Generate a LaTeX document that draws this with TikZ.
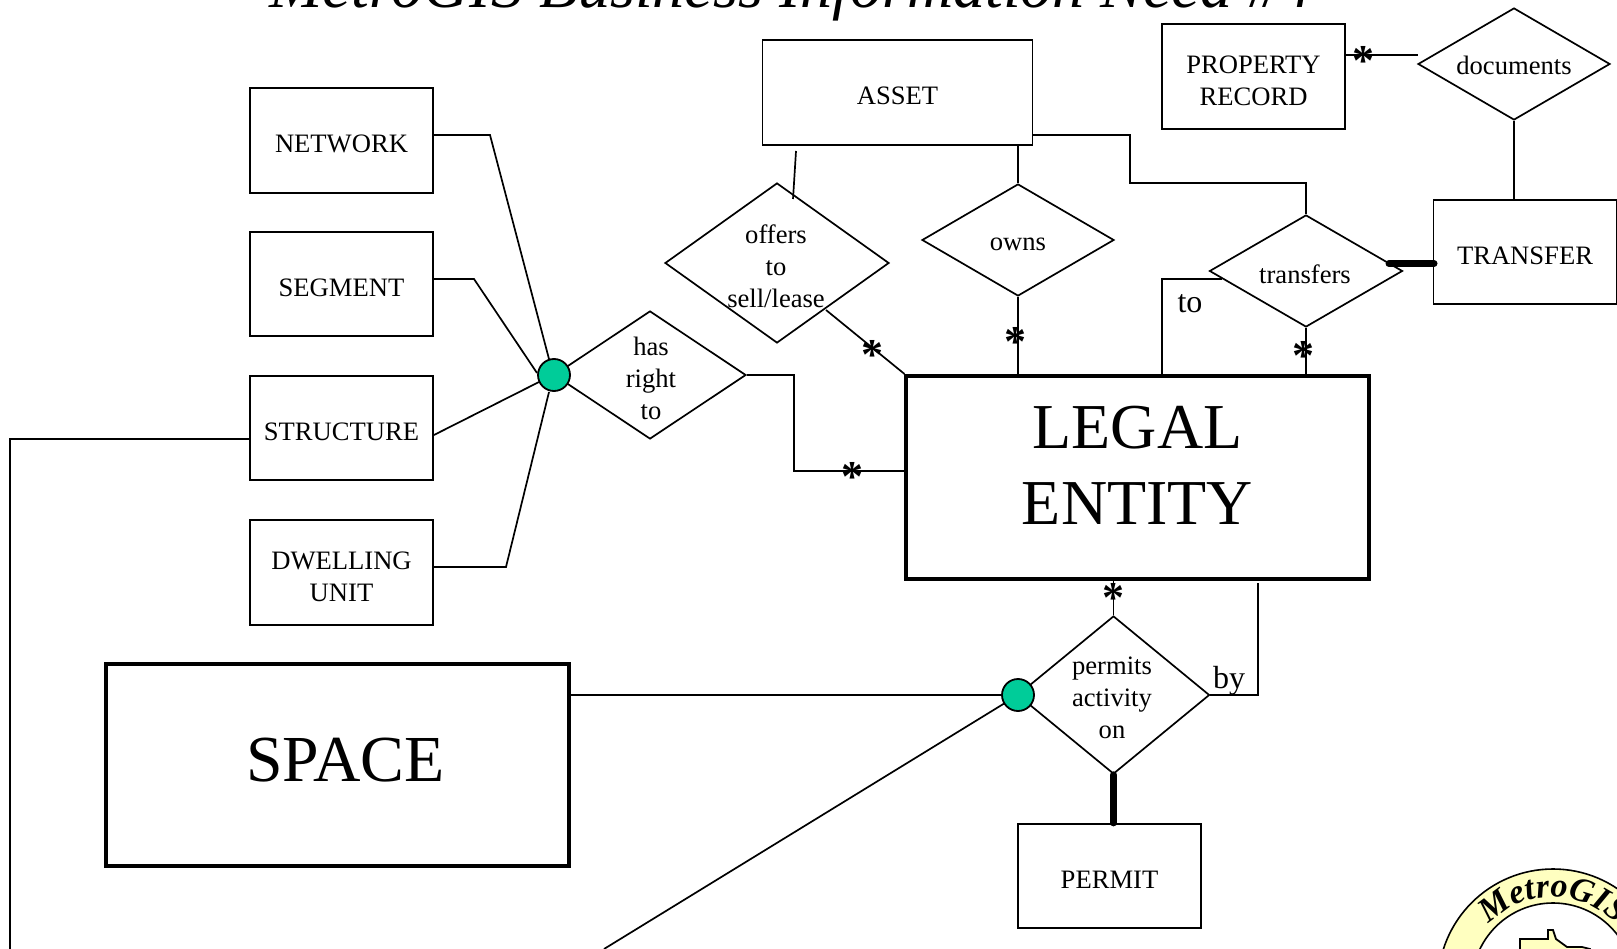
\documentclass[tikz,border=0pt]{standalone}
\usepackage{fontspec}
\setmainfont{Liberation Serif}
\usetikzlibrary{shapes.geometric,decorations.text,calc}
\definecolor{junccol}{HTML}{00CC99}
\definecolor{logoy}{HTML}{FFFFC0}
\tikzset{
  x=1pt,y=-1pt,
  ent/.style={draw=black,line width=1.7pt,fill=white,minimum width=183.2pt,minimum height=104.5pt,inner sep=0pt,align=center,font=\fontsize{26.6}{32}\selectfont},
  bigent/.style={draw=black,line width=3.6pt,fill=white,inner sep=0pt,align=center},
  rel/.style={draw=black,line width=1.7pt,diamond,fill=white,inner sep=0pt,aspect=1.7,align=center,font=\fontsize{26.6}{32}\selectfont},
  reltext/.style={inner sep=0pt,align=center,font=\fontsize{26.6}{32}\selectfont},
  junc/.style={circle,draw=black,line width=1.8pt,fill=junccol,minimum size=32pt,inner sep=0pt},
  conn/.style={draw=black,line width=1.7pt,line join=miter},
  heavy conn/.style={draw=black,line width=7pt,line cap=round},
  manymark/.style={inner sep=0pt,font=\fontsize{44}{44}\selectfont\bfseries},
  lab/.style={inner sep=0pt,font=\fontsize{32}{32}\selectfont},
}
\newcommand{\mk}[2]{\node[manymark] (#1) at (#2) {\makebox[0pt]{\raisebox{-0.46em}[0pt][0pt]{*}}};}
\newcommand{\one}{\rule{0pt}{25pt}}
\newcommand{\two}{\rule{0pt}{25.6pt}}
\begin{document}
\begin{tikzpicture}
\useasboundingbox (0,0) rectangle (1617,949);
\clip (0,0) rectangle (1617,949);
\node[anchor=base,inner sep=0pt,font=\fontsize{64}{70}\selectfont\itshape] (title) at (791,8) {MetroGIS Business Information Need \#4};
% free ends
\coordinate (c1) at (796,151);
\coordinate (c2) at (793,199);
\coordinate (c3) at (10,949);
\coordinate (c4) at (604,949);
% entities
\node[ent] (network) at (341.5,140.5) {\one NETWORK};
\node[ent] (segment) at (341.5,284) {\one SEGMENT};
\node[ent] (structure) at (341.5,428) {\one STRUCTURE};
\node[ent] (dwelling) at (341.5,572.5) {\two DWELLING\\UNIT};
\node[ent,minimum width=270pt] (asset) at (897.5,92.5) {\one ASSET};
\node[ent] (record) at (1253.5,76.5) {\two PROPERTY\\RECORD};
\node[ent] (transfer) at (1525,252) {\one TRANSFER};
\node[ent] (permit) at (1109.5,876) {\one PERMIT};
\node[bigent,minimum width=462.5pt,minimum height=203.5pt,font=\fontsize{64}{76}\selectfont,execute at end node={\rule[-25pt]{0pt}{25pt}}] (legal) at (1137.5,477.5) {LEGAL\\ENTITY};
\node[bigent,minimum width=463.5pt,minimum height=202.5pt,font=\fontsize{65.7}{76}\selectfont] (space) at (337.5,765) {\hspace*{16pt}SPACE\rule[-10pt]{0pt}{10pt}};
% relationships
\node[rel,minimum width=224pt,minimum height=160pt] (offers) at (777,263) {};
\node[rel,minimum width=192pt,minimum height=112pt] (owns) at (1018,240) {\rule{0pt}{22pt}owns};
\node[rel,minimum width=193pt,minimum height=112pt] (transfers) at (1306,271) {};
\node[rel,minimum width=192pt,minimum height=112pt] (documents) at (1514,64) {\rule{0pt}{22pt}documents};
\node[rel,minimum width=192pt,minimum height=128pt] (hasright) at (650,375) {};
\node[rel,minimum width=192pt,minimum height=158pt] (permits) at (1113.5,695) {};
\node[reltext] (offerstext) at (776,266) {offers\\to\\sell/lease};
\node[reltext] (transferstext) at (1305,274) {transfers};
\node[reltext] (hasrighttext) at (651,378) {has\\right\\to};
\node[reltext] (permitstext) at (1112,698) {permits\\activity\\on};
% junction targets
\coordinate (j1) at (554,375);
\coordinate (j2) at (1018,695);
% connectors
\draw[conn] (network.east |- 0,135) -- (490,135) -- (549,359);
\draw[conn] (segment.east |- 0,279) -- (474,279) -- (537,373);
\draw[conn] (structure.east |- 0,435) -- (539,382);
\draw[conn] (dwelling.east |- 0,567) -- (506,567) -- (549,392);
\draw[conn] (structure.west |- 0,439) -- (10,439) -- (c3);
\draw[conn] (space.east |- j2) -- (j2);
\draw[conn] (j2) -- (c4);
\draw[conn] (hasright.east) -- (794,375) -- (794,471) -- (legal.west |- 0,471);
\draw[conn] (826,310) -- (legal.north west);
\draw[conn] (c1) -- (c2);
\draw[conn] (asset.south -| owns) -- (owns.north);
\draw[conn] (owns.south) -- (legal.north -| owns);
\draw[conn] (asset.east |- 0,135) -- (1130,135) -- (1130,183) -- (1306,183) -- (transfers.north);
\draw[conn] (transfers.south) -- (legal.north -| transfers);
\draw[conn] (legal.north -| 1162,0) -- (1162,279) -- (1222,279);
\draw[conn] (record.east |- 0,55) -- (1418,55);
\draw[conn] (documents.south) -- (transfer.north -| documents);
\draw[conn] (permits.north) -- (legal.south -| permits);
\draw[conn] (permits.east) -- (1258,695) -- (1258,583);
\draw[heavy conn] (1389,263.5) -- (1434,263.5);
\draw[heavy conn] (permits.south) -- (permit.north -| permits);
% junctions
\node[junc] (jc1) at (j1) {};
\node[junc] (jc2) at (j2) {};
% many marks
\mk{m1}{872,349}
\mk{m2}{1015,336}
\mk{m3}{1303,350}
\mk{m4}{852,471}
\mk{m5}{1113,592}
\mk{m6}{1363,55}
% labels
\node[lab] (to) at (1190,303.5) {to};
\node[lab] (by) at (1229,681) {by};
% logo
\coordinate (lc) at (1553,984);
\fill[logoy,draw=black,line width=1.6pt] (lc) circle (115);
\fill[white,draw=black,line width=1.6pt] (lc) circle (81);
\path[decorate,decoration={text along path,text align=center,text={|\fontsize{34}{34}\selectfont\bfseries\itshape|MetroGIS}}] (1466,984) arc (180:360:87);
\draw[fill=logoy,line width=1.8pt] (1520,960) -- (1520,939) -- (1548,939) -- (1548,930) -- (1553,930) -- (1556,939) -- (1567,947) -- (1582,947) -- (1590,949) -- (1590,960) -- cycle;
\end{tikzpicture}
\end{document}
